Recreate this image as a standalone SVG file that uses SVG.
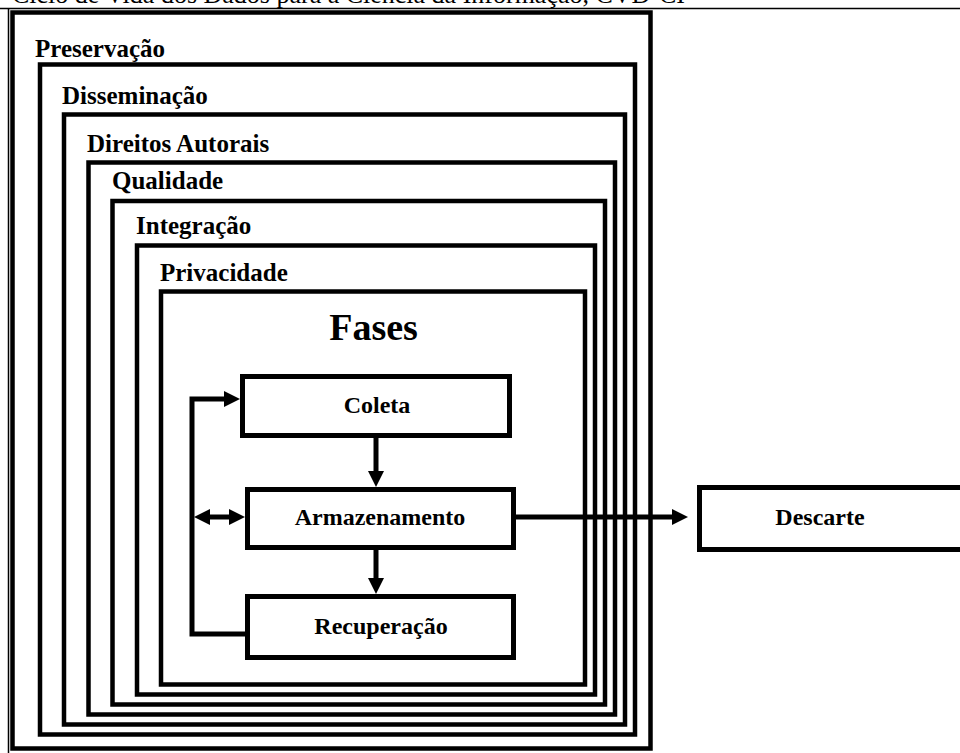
<svg xmlns="http://www.w3.org/2000/svg" width="960" height="753" viewBox="0 0 960 753">
<style>
.frame{fill:none;stroke:#000;stroke-width:4.5}
.box{fill:#fff;stroke:#000;stroke-width:5}
.lbl{font-family:"Liberation Serif","Times New Roman",serif;font-weight:bold;font-size:25px;fill:#000}
.ctr{text-anchor:middle}
.con{fill:none;stroke:#000;stroke-width:5}
</style>
<defs>
<marker id="ah" markerUnits="userSpaceOnUse" markerWidth="16" markerHeight="16" refX="6" refY="8" orient="auto-start-reverse">
<path d="M0,0 L16,8 L0,16 z" fill="#000"/>
</marker>
</defs>
<rect x="0" y="0" width="960" height="753" fill="#fff"/>
<text x="12" y="3" style="font-family:'Liberation Serif','Times New Roman',serif;font-size:26px;fill:#000">Ciclo de Vida dos Dados para a Ciência da Informação, CVD-CI</text>
<line x1="0" y1="8.5" x2="960" y2="8.5" stroke="#000" stroke-width="1.5"/>
<line x1="8.5" y1="8" x2="8.5" y2="753" stroke="#000" stroke-width="1.5"/>

<g id="preservacao">
<rect class="frame" x="12.5" y="12.5" width="638" height="736"/>
<text class="lbl" x="35" y="57">Preservação</text>
</g>
<g id="disseminacao">
<rect class="frame" x="40" y="64.5" width="595" height="670"/>
<text class="lbl" x="62" y="104">Disseminação</text>
</g>
<g id="direitos">
<rect class="frame" x="64" y="114.5" width="561" height="610"/>
<text class="lbl" x="87" y="152">Direitos Autorais</text>
</g>
<g id="qualidade">
<rect class="frame" x="88.5" y="162.5" width="526.5" height="552"/>
<text class="lbl" x="112" y="189">Qualidade</text>
</g>
<g id="integracao">
<rect class="frame" x="112.5" y="201" width="492.5" height="503.5"/>
<text class="lbl" x="136" y="234">Integração</text>
</g>
<g id="privacidade">
<rect class="frame" x="137" y="245.5" width="458" height="449"/>
<text class="lbl" x="160" y="281">Privacidade</text>
</g>
<g id="fases">
<rect class="frame" x="161" y="291.5" width="424" height="393"/>
<text class="lbl ctr" x="373.5" y="340" style="font-size:38px">Fases</text>
</g>

<g id="connectors">
<polyline class="con" points="247.5,634 192,634 192,399 230,399" marker-end="url(#ah)"/>
<line class="con" x1="204" y1="517" x2="235" y2="517" marker-start="url(#ah)" marker-end="url(#ah)"/>
<line class="con" x1="376" y1="438" x2="376" y2="477" marker-end="url(#ah)"/>
<line class="con" x1="376" y1="550" x2="376" y2="584" marker-end="url(#ah)"/>
<line class="con" x1="516" y1="517" x2="678" y2="517" marker-end="url(#ah)"/>
</g>

<g id="coleta">
<rect class="box" x="242.5" y="376.5" width="267" height="59"/>
<text class="lbl ctr" x="377" y="413" style="font-size:24px">Coleta</text>
</g>
<g id="armazenamento">
<rect class="box" x="247.5" y="489.5" width="266" height="58"/>
<text class="lbl ctr" x="380" y="525" style="font-size:24px">Armazenamento</text>
</g>
<g id="recuperacao">
<rect class="box" x="247.5" y="596.5" width="266" height="61"/>
<text class="lbl ctr" x="381" y="634" style="font-size:24px">Recuperação</text>
</g>
<g id="descarte">
<rect class="box" x="699.5" y="487.5" width="280" height="62"/>
<text class="lbl ctr" x="820" y="525" style="font-size:24px">Descarte</text>
</g>
</svg>
